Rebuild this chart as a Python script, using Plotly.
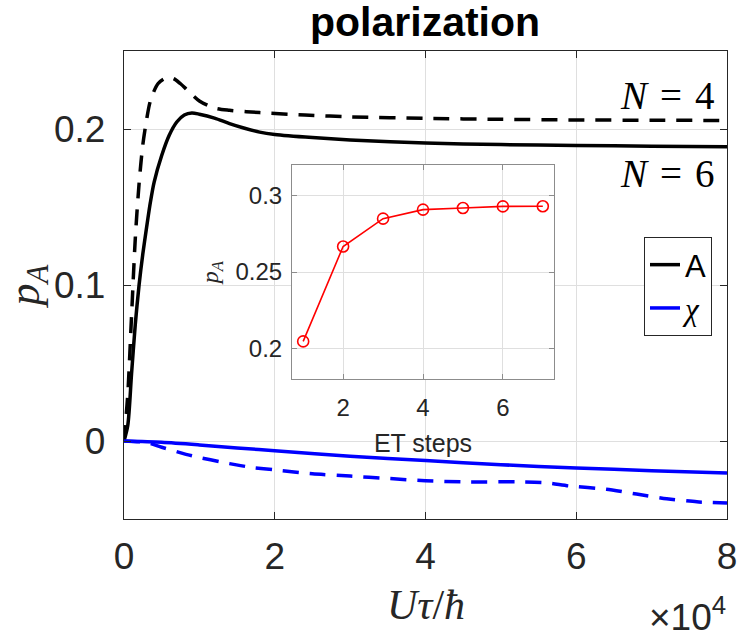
import plotly.graph_objects as go

# ---- data (x in units of 1e4) ----
x_A6 = [0, 0.05, 0.1, 0.15, 0.2, 0.25, 0.3, 0.35, 0.4, 0.5, 0.6, 0.7, 0.8, 0.9, 1.0, 1.2, 1.4, 1.6, 1.8, 2.0, 2.5, 3, 4, 5, 6, 7, 8]
y_A6 = [0, 0.01, 0.043, 0.075, 0.1, 0.12, 0.137, 0.153, 0.166, 0.183, 0.196, 0.2045, 0.209, 0.2103, 0.2095, 0.207, 0.2035, 0.2005, 0.198, 0.1965, 0.1945, 0.193, 0.191, 0.19, 0.1895, 0.189, 0.1887]

x_A4 = [0, 0.05, 0.1, 0.15, 0.2, 0.25, 0.3, 0.35, 0.45, 0.55, 0.65, 0.75, 0.85, 1.0, 1.2, 1.4, 1.8, 2.4, 3, 4, 5, 6, 7, 8]
y_A4 = [0, 0.03, 0.08, 0.13, 0.165, 0.19, 0.206, 0.218, 0.229, 0.2325, 0.2325, 0.229, 0.2245, 0.218, 0.2135, 0.212, 0.2105, 0.209, 0.2078, 0.2068, 0.2062, 0.2058, 0.2056, 0.2055]

x_X6 = [0, 0.5, 1, 1.5, 2, 3, 4, 5, 6, 7, 8]
y_X6 = [0, -0.0008, -0.0025, -0.0045, -0.0062, -0.0098, -0.0125, -0.0152, -0.0173, -0.019, -0.0205]

x_X4 = [0, 0.3, 0.5, 0.9, 1.4, 1.7, 2.0, 2.5, 3.0, 3.5, 4.0, 4.5, 5.2, 5.6, 5.9, 6.4, 6.8, 7.2, 7.6, 8.0]
y_X4 = [0, -0.001, -0.004, -0.0095, -0.0145, -0.017, -0.0185, -0.021, -0.0225, -0.024, -0.0255, -0.0262, -0.0262, -0.0268, -0.0288, -0.0309, -0.034, -0.037, -0.039, -0.0398]

et_steps = [1, 2, 3, 4, 5, 6, 7]
et_pA = [0.2046, 0.2667, 0.2849, 0.2908, 0.2919, 0.2929, 0.293]

main_xticks = [0, 2, 4, 6, 8]
main_yticks = [0, 0.1, 0.2]
main_yticktext = ["0", "0.1", "0.2"]
inset_xticks = [2, 4, 6]
inset_yticks = [0.2, 0.25, 0.3]
inset_yticktext = ["0.2", "0.25", "0.3"]

W, H = 738, 637
SANS = "Liberation Sans, Arial, sans-serif"
SERIF = "Liberation Serif, Times New Roman, serif"
TXT = "#262626"
GRID = "#dfdfdf"
DASH = "16px,11px"

fig = go.Figure()

fig.add_trace(go.Scatter(x=x_A6, y=y_A6, mode="lines", name="A",
                         line=dict(color="black", width=3.5, shape="spline", smoothing=0.8),
                         xaxis="x", yaxis="y"))
fig.add_trace(go.Scatter(x=x_X6, y=y_X6, mode="lines",
                         name="<span style='font-family:Liberation Serif;font-style:italic'>χ</span>",
                         line=dict(color="#0000ff", width=3.5, shape="spline", smoothing=0.8),
                         xaxis="x", yaxis="y"))
fig.add_trace(go.Scatter(x=x_A4, y=y_A4, mode="lines", showlegend=False,
                         line=dict(color="black", width=3.5, dash=DASH, shape="spline", smoothing=0.8),
                         xaxis="x", yaxis="y"))
fig.add_trace(go.Scatter(x=x_X4, y=y_X4, mode="lines", showlegend=False,
                         line=dict(color="#0000ff", width=3.5, dash=DASH, shape="spline", smoothing=0.6),
                         xaxis="x", yaxis="y"))

fig.add_trace(go.Scatter(x=et_steps, y=et_pA, mode="lines+markers", showlegend=False,
                         line=dict(color="#ff0000", width=1.6),
                         marker=dict(symbol="circle-open", size=11, color="#ff0000",
                                     line=dict(width=1.6, color="#ff0000")),
                         xaxis="x2", yaxis="y2"))

main_dx = [124 / W, 727 / W]
main_dy = [1 - 519 / H, 1 - 51 / H]
ins_dx = [292 / W, 554 / W]
ins_dy = [1 - 379 / H, 1 - 165 / H]

fig.update_layout(
    width=W, height=H,
    margin=dict(l=0, r=0, t=0, b=0),
    paper_bgcolor="white", plot_bgcolor="white",
    showlegend=True,
    legend=dict(x=712 / W, y=1 - 237 / H, xanchor="right", yanchor="top",
                bgcolor="white", bordercolor="#262626", borderwidth=1,
                font=dict(family=SANS, size=31, color="black"),
                tracegroupgap=0, itemwidth=30, entrywidth=60),
    xaxis=dict(domain=main_dx, range=[0, 8], tickvals=main_xticks, automargin=False,
               showgrid=True, gridcolor=GRID, gridwidth=1, zeroline=False,
               showline=True, linecolor="#262626", linewidth=1.3, mirror="ticks",
               ticks="inside", ticklen=7, tickcolor="#262626",
               tickfont=dict(family=SANS, size=37, color=TXT), anchor="y",
               ticklabelstandoff=4),
    yaxis=dict(domain=main_dy, range=[-0.05, 0.25], tickvals=main_yticks, ticktext=main_yticktext,
               automargin=True,
               showgrid=True, gridcolor=GRID, gridwidth=1, zeroline=False,
               showline=True, linecolor="#262626", linewidth=1.3, mirror="ticks",
               ticks="inside", ticklen=7, tickcolor="#262626",
               tickfont=dict(family=SANS, size=37, color=TXT), anchor="x",
               ticklabelstandoff=10,
               title=dict(text="<i>p</i><sub><i>A</i></sub>", font=dict(family=SERIF, size=44, color=TXT),
                          standoff=14)),
    xaxis2=dict(domain=ins_dx, range=[0.72, 7.28], tickvals=inset_xticks, automargin=False,
                showgrid=True, gridcolor=GRID, zeroline=False,
                showline=True, linecolor="#8c8c8c", linewidth=1, mirror="ticks",
                ticks="inside", ticklen=5, tickcolor="#8c8c8c",
                tickfont=dict(family=SANS, size=24, color=TXT), anchor="y2",
                ticklabelstandoff=7,
                title=dict(text="ET steps", font=dict(family=SANS, size=25, color=TXT), standoff=14)),
    yaxis2=dict(domain=ins_dy, range=[0.18, 0.32], tickvals=inset_yticks, ticktext=inset_yticktext,
                automargin=False,
                showgrid=True, gridcolor=GRID, zeroline=False,
                showline=True, linecolor="#8c8c8c", linewidth=1, mirror="ticks",
                ticks="inside", ticklen=5, tickcolor="#8c8c8c",
                tickfont=dict(family=SANS, size=24, color=TXT), anchor="x2",
                ticklabelstandoff=4,
                title=dict(text="<i>p</i><sub><i>A</i></sub>", font=dict(family=SERIF, size=24, color=TXT), standoff=10)),
)

annots = [
    dict(text="<b>polarization</b>", x=425 / W, y=1 - 22 / H, xref="paper", yref="paper",
         xanchor="center", yanchor="middle", showarrow=False,
         font=dict(family=SANS, size=41, color="black")),
    dict(text="<i>N</i>\u2004=\u20044", x=717 / W, y=1 - 96 / H, xref="paper", yref="paper",
         xanchor="right", yanchor="middle", showarrow=False,
         font=dict(family=SERIF, size=39, color="black")),
    dict(text="<i>N</i>\u2004=\u20046", x=717 / W, y=1 - 173 / H, xref="paper", yref="paper",
         xanchor="right", yanchor="middle", showarrow=False,
         font=dict(family=SERIF, size=39, color="black")),
    dict(text="<i>Uτ</i>/<i>ħ</i>", x=426 / W, y=1 - 605 / H, xref="paper", yref="paper",
         xanchor="center", yanchor="middle", showarrow=False,
         font=dict(family=SERIF, size=42, color=TXT)),
    dict(text="×10<sup>4</sup>", x=728 / W, y=1 - 614 / H, xref="paper", yref="paper",
         xanchor="right", yanchor="middle", showarrow=False,
         font=dict(family=SANS, size=37, color=TXT)),
]
fig.update_layout(annotations=annots)

fig.write_html("out.html")
